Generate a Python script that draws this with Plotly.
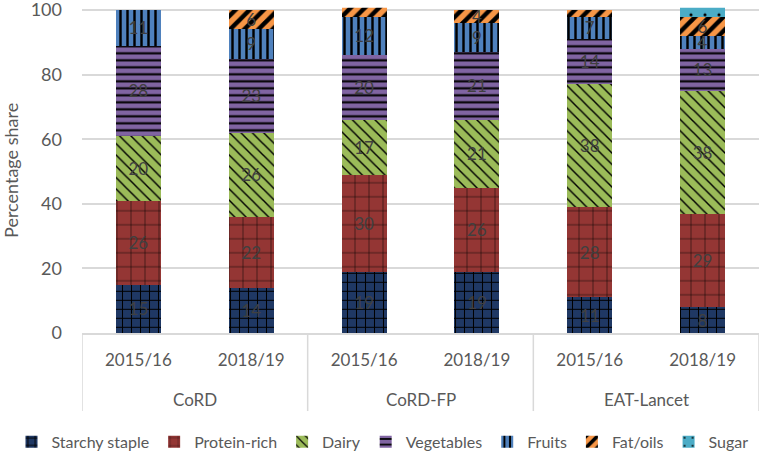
import plotly.graph_objects as go

# x categories (two-level)
groups = ["CoRD", "CoRD", "CoRD-FP", "CoRD-FP", "EAT-Lancet", "EAT-Lancet"]
years = ["2015/16", "2018/19", "2015/16", "2018/19", "2015/16", "2018/19"]

# percentage share per food group
starchy = [15, 14, 19, 19, 11, 8]
protein = [26, 22, 30, 26, 28, 29]
dairy = [20, 26, 17, 21, 38, 38]
vegetables = [28, 23, 20, 21, 14, 13]
fruits = [11, 9, 12, 9, 7, 4]
fat_oils = [0, 6, 3, 4, 2, 6]
sugar = [0, 0, 0, 0, 0, 3]

# labels shown in the bars (blank where the chart shows none)
fat_labels = ["", "6", "3", "4", "", "6"]

series = [
    ("Starchy staple", starchy, None, "#1F3864", "+", 9, 0.22),
    ("Protein-rich", protein, None, "#943634", "+", 14, 0.07),
    ("Dairy", dairy, None, "#9BBB59", "\\", 8, 0.18),
    ("Vegetables", vegetables, None, "#8064A2", "-", 7, 0.3),
    ("Fruits", fruits, None, "#4F81BD", "|", 7, 0.35),
    ("Fat/oils", fat_oils, fat_labels, "#F79646", "/", 10, 0.45),
    ("Sugar", sugar, None, "#4BACC6", ".", 14, 0.04),
]

xpos = list(range(len(years)))
grey = "#595959"
line_grey = "#D9D9D9"

fig = go.Figure()
for name, vals, labels, color, shape, size, solid in series:
    if labels is None:
        labels = [str(v) if v else "" for v in vals]
    fig.add_trace(go.Bar(
        name=name,
        x=xpos,
        y=vals,
        width=0.4,
        text=labels,
        textposition="inside",
        insidetextanchor="middle",
        textangle=0,
        constraintext="none",
        cliponaxis=False,
        textfont=dict(color="#404040", size=17),
        marker=dict(
            color=color,
            line=dict(width=0),
            pattern=dict(shape=shape, size=size, solidity=solid,
                         fgcolor="black", bgcolor=color, fillmode="replace"),
        ),
    ))

# group labels under the years, with dividers between groups
group_names = list(dict.fromkeys(groups))
for g in group_names:
    idx = [i for i, v in enumerate(groups) if v == g]
    fig.add_annotation(x=sum(idx) / len(idx), y=-0.204, xref="x", yref="y domain",
                       text=g, showarrow=False, yanchor="middle",
                       font=dict(size=17, color=grey))
bounds = [-0.5] + [i + 0.5 for i in range(len(groups) - 1) if groups[i] != groups[i + 1]] + [len(groups) - 0.5]
for b in bounds:
    fig.add_shape(type="line", x0=b, x1=b, y0=0, y1=-0.24, xref="x", yref="y domain",
                  line=dict(color=line_grey, width=1.5))

fig.update_layout(
    barmode="stack",
    width=765,
    height=456,
    margin=dict(l=0, r=0, t=0, b=0, autoexpand=False),
    plot_bgcolor="white",
    paper_bgcolor="white",
    font=dict(family="Lato", size=17, color=grey),
    uniformtext=dict(minsize=17, mode="show"),
    legend=dict(orientation="h", x=0.5, xanchor="center", y=0.031, yanchor="middle",
                traceorder="normal", font=dict(size=16, color=grey),
                itemwidth=30, tracegroupgap=0),
    showlegend=True,
)
fig.update_yaxes(
    domain=[123 / 456, 448.2 / 456],
    range=[0, 100.7],
    tickvals=[0, 20, 40, 60, 80, 100],
    ticklabeloverflow="allow",
    showgrid=True,
    gridcolor=line_grey,
    gridwidth=1.5,
    zeroline=False,
    automargin=False,
    ticklabelstandoff=19,
    title=dict(text="Percentage share", font=dict(size=18, color=grey), standoff=8),
    tickfont=dict(size=18, color=grey),
)
fig.update_xaxes(
    domain=[82 / 765, 759 / 765],
    range=[-0.5, len(years) - 0.5],
    tickvals=xpos,
    ticktext=years,
    ticks="",
    ticklabelstandoff=11,
    showgrid=False,
    showline=True,
    linecolor=line_grey,
    linewidth=1.5,
    automargin=False,
    tickfont=dict(size=17, color=grey),
)

fig.write_html("out.html", config={"displayModeBar": False},
               post_script="document.body.style.margin='0';")
